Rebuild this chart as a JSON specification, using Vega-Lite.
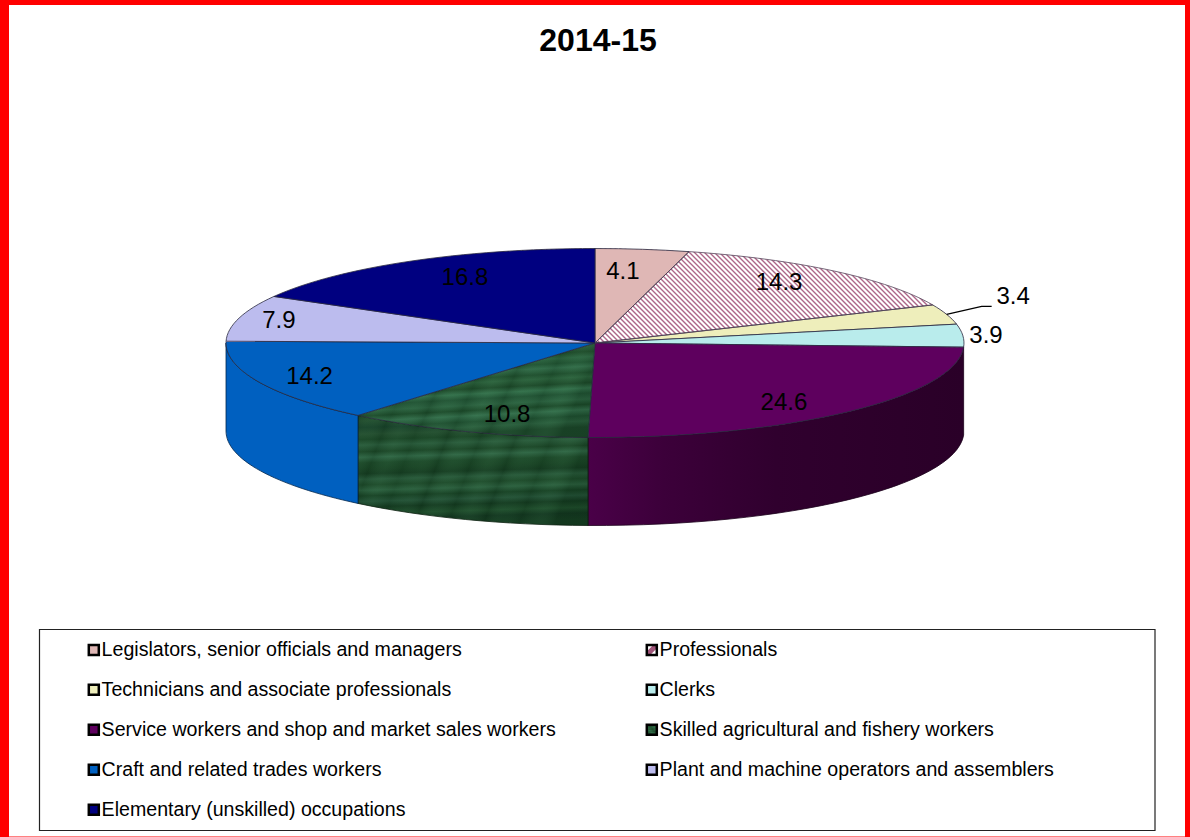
{
  "$schema": "https://vega.github.io/schema/vega-lite/v6.json",
  "autosize": "none",
  "padding": 0,
  "width": 1190,
  "height": 837,
  "background": "#ff0000",
  "title": {"text": "2014-15", "font": "Liberation Sans", "fontSize": 32, "fontWeight": "bold", "color": "#000000", "anchor": "middle", "frame": "group", "offset": -58, "dx": 3, "zindex": 1},
  "config": {"view": {"stroke": null}, "font": "Liberation Sans"},
  "params": [
    {"name": "rx", "value": 369},
    {"name": "ry", "value": 94.5},
    {"name": "depth", "value": 88},
    {"name": "hatchSwatch", "value": {"gradient": "linear", "x1": 0, "y1": 0, "x2": 1, "y2": 1, "stops": [
      {"offset": 0, "color": "#ffffff"}, {"offset": 0.3, "color": "#ffffff"}, {"offset": 0.35, "color": "#a0557a"}, {"offset": 0.65, "color": "#a0557a"}, {"offset": 0.7, "color": "#ffffff"}, {"offset": 1, "color": "#ffffff"}
    ]}},
    {"name": "marbleTop", "value": {"gradient": "linear", "x1": 0, "y1": 0.1, "x2": 0.12, "y2": 1, "stops": [
      {"offset": 0, "color": "#1f4f2b"}, {"offset": 0.07, "color": "#28593a"}, {"offset": 0.13, "color": "#1d4a29"}, {"offset": 0.19, "color": "#2c6440"},
      {"offset": 0.25, "color": "#215433"}, {"offset": 0.3, "color": "#316b48"}, {"offset": 0.37, "color": "#1f4f2e"}, {"offset": 0.42, "color": "#2b613c"},
      {"offset": 0.49, "color": "#1d4a2a"}, {"offset": 0.55, "color": "#33704b"}, {"offset": 0.61, "color": "#215334"}, {"offset": 0.68, "color": "#2c6341"},
      {"offset": 0.74, "color": "#1c4a2a"}, {"offset": 0.8, "color": "#336e4b"}, {"offset": 0.87, "color": "#1f5031"}, {"offset": 0.93, "color": "#2a5e3d"}, {"offset": 1, "color": "#1c472a"}
    ]}},
    {"name": "marbleBlotches", "value": {"gradient": "linear", "x1": 0, "y1": 0, "x2": 1, "y2": 0.18, "stops": [
      {"offset": 0, "color": "rgba(0,20,5,0.14)"}, {"offset": 0.06, "color": "rgba(120,190,140,0.04)"}, {"offset": 0.13, "color": "rgba(0,20,5,0.12)"}, {"offset": 0.2, "color": "rgba(120,190,140,0.06)"},
      {"offset": 0.27, "color": "rgba(0,20,5,0.07)"}, {"offset": 0.33, "color": "rgba(120,190,140,0.03)"}, {"offset": 0.41, "color": "rgba(0,20,5,0.15)"}, {"offset": 0.48, "color": "rgba(120,190,140,0.05)"},
      {"offset": 0.55, "color": "rgba(0,20,5,0.11)"}, {"offset": 0.62, "color": "rgba(120,190,140,0.07)"}, {"offset": 0.7, "color": "rgba(0,20,5,0.14)"}, {"offset": 0.77, "color": "rgba(120,190,140,0.04)"},
      {"offset": 0.85, "color": "rgba(0,20,5,0.1)"}, {"offset": 0.93, "color": "rgba(120,190,140,0.06)"}, {"offset": 1, "color": "rgba(0,20,5,0.13)"}
    ]}}
  ],
  "data": {"values": [
    {"occupation": "Legislators, senior officials and managers", "share": 4.1},
    {"occupation": "Professionals", "share": 14.3},
    {"occupation": "Technicians and associate professionals", "share": 3.4},
    {"occupation": "Clerks", "share": 3.9},
    {"occupation": "Service workers and shop and market sales workers", "share": 24.6},
    {"occupation": "Skilled agricultural and fishery workers", "share": 10.8},
    {"occupation": "Craft and related trades workers", "share": 14.2},
    {"occupation": "Plant and machine operators and assemblers", "share": 7.9},
    {"occupation": "Elementary (unskilled) occupations", "share": 16.8}
  ]},
  "transform": [
    {"window": [{"op": "sum", "field": "share", "as": "cum"}, {"op": "row_number", "as": "rank"}]},
    {"calculate": "(datum.cum - datum.share) / 100 * 2 * PI", "as": "a0"},
    {"calculate": "datum.cum / 100 * 2 * PI", "as": "a1"},
    {"calculate": "(datum.a0 + datum.a1) / 2", "as": "mid"},
    {"calculate": "round(rx * sin(datum.a0) * 100) / 100", "as": "x0"},
    {"calculate": "round(-ry * cos(datum.a0) * 100) / 100", "as": "y0"},
    {"calculate": "round(rx * sin(datum.a1) * 100) / 100", "as": "x1"},
    {"calculate": "round(-ry * cos(datum.a1) * 100) / 100", "as": "y1"},
    {"calculate": "'M0 0L' + datum.x0 + ' ' + datum.y0 + 'A' + rx + ' ' + ry + ' 0 0 1 ' + datum.x1 + ' ' + datum.y1 + 'Z'", "as": "topPath"},
    {"calculate": "'M' + datum.x0 + ' ' + datum.y0 + 'A' + rx + ' ' + ry + ' 0 0 1 ' + datum.x1 + ' ' + datum.y1 + 'L' + datum.x1 + ' ' + (datum.y1 + depth) + 'A' + rx + ' ' + ry + ' 0 0 0 ' + datum.x0 + ' ' + (datum.y0 + depth) + 'Z'", "as": "sidePath"},
    {"calculate": "595 + [0.59, 0.768, 1.189, 1.063, 0.748, 0.68, 0.85, 0.888, 0.70][datum.rank - 1] * rx * sin(datum.mid)", "as": "labelX"},
    {"calculate": "343 - [0.76, 0.835, 1.61, 0.94, 0.87, 0.81, 0.87, 0.88, 0.80][datum.rank - 1] * ry * cos(datum.mid)", "as": "labelY"},
    {"calculate": "595 + rx * sin(datum.mid)", "as": "rimX"},
    {"calculate": "343 - ry * cos(datum.mid)", "as": "rimY"},
    {"calculate": "'M-100 -100' + pad('', 78, 'l110 110m-105 -110')", "as": "hatchPath"}
  ],
  "layer": [
    {
      "transform": [{"filter": "datum.rank == 1"}],
      "mark": {"type": "rect", "fill": "#ffffff"},
      "encoding": {
        "x": {"datum": 9, "type": "quantitative", "scale": {"domain": [0, 1190]}, "axis": null},
        "x2": {"datum": 1185},
        "y": {"datum": 5, "type": "quantitative", "scale": {"domain": [837, 0]}, "axis": null},
        "y2": {"datum": 836.5}
      }
    },
    {
      "transform": [{"filter": "datum.rank == 1"}],
      "mark": {"type": "rect", "fill": null, "stroke": "#222222", "strokeWidth": 1.2},
      "encoding": {
        "x": {"datum": 39.5, "type": "quantitative", "scale": {"domain": [0, 1190]}, "axis": null},
        "x2": {"datum": 1155},
        "y": {"datum": 629.5, "type": "quantitative", "scale": {"domain": [837, 0]}, "axis": null},
        "y2": {"datum": 830.5}
      }
    },
    {
      "encoding": {
        "x": {"datum": 595, "type": "quantitative", "scale": {"domain": [0, 1190]}, "axis": null},
        "y": {"datum": 343, "type": "quantitative", "scale": {"domain": [837, 0]}, "axis": null}
      },
      "layer": [
        {
          "transform": [{"filter": "datum.rank == 2"}],
          "mark": {"type": "point", "filled": false, "opacity": 1, "stroke": "#ad6688", "strokeWidth": 1.4, "size": 4},
          "encoding": {"shape": {"field": "hatchPath", "type": "nominal", "scale": null, "legend": null}}
        },
        {
          "transform": [{"filter": "datum.rank == 2"}, {"calculate": "'M-110 -110H400V20H-110ZM-' + rx + ' 0A' + rx + ' ' + ry + ' 0 0 0 ' + rx + ' 0A' + rx + ' ' + ry + ' 0 0 0 -' + rx + ' 0Z'", "as": "maskPath"}],
          "mark": {"type": "point", "filled": true, "opacity": 1, "fill": "#ffffff", "size": 4},
          "encoding": {"shape": {"field": "maskPath", "type": "nominal", "scale": null, "legend": null}}
        },
        {
          "transform": [{"filter": "datum.rank == 5"}],
          "mark": {"type": "point", "filled": true, "opacity": 1, "size": 4, "stroke": "#1a001a", "strokeWidth": 0.8,
            "fill": {"gradient": "linear", "x1": 0, "y1": 0, "x2": 1, "y2": 0, "stops": [
              {"offset": 0, "color": "#4a0048"}, {"offset": 0.2, "color": "#3c003a"}, {"offset": 0.5, "color": "#30002e"}, {"offset": 1, "color": "#2a0028"}
            ]}},
          "encoding": {"shape": {"field": "sidePath", "type": "nominal", "scale": null, "legend": null}}
        },
        {
          "transform": [{"filter": "datum.rank == 6"}],
          "mark": {"type": "point", "filled": true, "opacity": 1, "size": 4, "stroke": "#0c1f10", "strokeWidth": 0.8,
            "fill": {"gradient": "linear", "x1": 0, "y1": 0, "x2": 0.06, "y2": 1, "stops": [
              {"offset": 0, "color": "#1c4727"}, {"offset": 0.05, "color": "#234f30"}, {"offset": 0.11, "color": "#18422a"}, {"offset": 0.17, "color": "#244f30"},
              {"offset": 0.22, "color": "#1a4526"}, {"offset": 0.27, "color": "#2a5c3c"}, {"offset": 0.33, "color": "#1b4627"}, {"offset": 0.38, "color": "#2f6544"},
              {"offset": 0.43, "color": "#1d4a2a"}, {"offset": 0.48, "color": "#1a4526"}, {"offset": 0.53, "color": "#163d22"}, {"offset": 0.58, "color": "#28593a"},
              {"offset": 0.63, "color": "#1d4a2a"}, {"offset": 0.68, "color": "#2b5f3e"}, {"offset": 0.73, "color": "#174124"}, {"offset": 0.78, "color": "#245237"},
              {"offset": 0.83, "color": "#143a20"}, {"offset": 0.89, "color": "#1f4d2c"}, {"offset": 0.94, "color": "#133720"}, {"offset": 1, "color": "#163d22"}
            ]}},
          "encoding": {"shape": {"field": "sidePath", "type": "nominal", "scale": null, "legend": null}}
        },
        {
          "transform": [{"filter": "datum.rank == 7"}, {"calculate": "'M' + datum.x0 + ' ' + datum.y0 + 'A' + rx + ' ' + ry + ' 0 0 1 -' + rx + ' 0L-' + rx + ' ' + depth + 'A' + rx + ' ' + ry + ' 0 0 0 ' + datum.x0 + ' ' + (datum.y0 + depth) + 'Z'", "as": "leftSidePath"}],
          "mark": {"type": "point", "filled": true, "opacity": 1, "size": 4, "stroke": "#00264d", "strokeWidth": 0.8, "fill": "#0060c0"},
          "encoding": {"shape": {"field": "leftSidePath", "type": "nominal", "scale": null, "legend": null}}
        },
        {
          "mark": {"type": "point", "filled": true, "opacity": 1, "size": 4, "stroke": "#2a2a40", "strokeWidth": 0.8},
          "transform": [{"filter": "datum.rank != 2"}],
          "encoding": {
            "shape": {"field": "topPath", "type": "nominal", "scale": null, "legend": null},
            "fill": {
              "field": "occupation",
              "type": "nominal",
              "scale": {
                "domain": [
                  "Legislators, senior officials and managers", "Professionals", "Technicians and associate professionals", "Clerks",
                  "Service workers and shop and market sales workers", "Skilled agricultural and fishery workers", "Craft and related trades workers",
                  "Plant and machine operators and assemblers", "Elementary (unskilled) occupations"
                ],
                "range": [
                  "#dfb7b5",
                  {"expr": "hatchSwatch"},
                  "#eeeebb",
                  "#b9ecec",
                  "#5e005e",
                  {"expr": "marbleTop"},
                  "#0060c0",
                  "#bcbcee",
                  "#000080"
                ]
              },
              "legend": {
                "title": null,
                "orient": "none",
                "legendX": 84,
                "legendY": 640,
                "zindex": 1,
                "direction": "horizontal",
                "columns": 2,
                "symbolType": "square",
                "symbolSize": 100,
                "symbolStrokeColor": "#000000",
                "symbolStrokeWidth": 2.5,
                "labelFont": "Liberation Sans",
                "labelFontSize": 19.6,
                "labelColor": "#000000",
                "labelLimit": 600,
                "labelOffset": -2,
                "rowPadding": 19,
                "columnPadding": 85,
                "gridAlign": "all"
              }
            }
          }
        },
        {
          "transform": [{"filter": "datum.rank == 6"}],
          "mark": {"type": "point", "filled": true, "opacity": 1, "size": 4, "strokeWidth": 0, "fill": {"expr": "marbleBlotches"}},
          "encoding": {"shape": {"field": "topPath", "type": "nominal", "scale": null, "legend": null}}
        },
        {
          "transform": [{"filter": "datum.rank == 6"}],
          "mark": {"type": "point", "filled": true, "opacity": 1, "size": 4, "strokeWidth": 0, "fill": {"expr": "marbleBlotches"}},
          "encoding": {"shape": {"field": "sidePath", "type": "nominal", "scale": null, "legend": null}}
        },
        {
          "transform": [{"filter": "datum.rank == 2"}],
          "mark": {"type": "point", "filled": false, "opacity": 1, "size": 4, "stroke": "#55445a", "strokeWidth": 0.8},
          "encoding": {"shape": {"field": "topPath", "type": "nominal", "scale": null, "legend": null}}
        }
      ]
    },
    {
      "transform": [{"filter": "datum.rank == 3"}],
      "mark": {"type": "point", "filled": false, "opacity": 1, "size": 4, "stroke": "#000000", "strokeWidth": 1.2},
      "encoding": {
        "x": {"field": "rimX", "type": "quantitative", "scale": {"domain": [0, 1190]}, "axis": null},
        "y": {"field": "rimY", "type": "quantitative", "scale": {"domain": [837, 0]}, "axis": null},
        "shape": {"datum": "M0 0L35 -8H45", "type": "nominal", "scale": null, "legend": null}
      }
    },
    {
      "mark": {"type": "text", "font": "Liberation Sans", "fontSize": 24, "color": "#000000", "align": "center", "baseline": "middle"},
      "encoding": {
        "x": {"field": "labelX", "type": "quantitative", "scale": {"domain": [0, 1190]}, "axis": null},
        "y": {"field": "labelY", "type": "quantitative", "scale": {"domain": [837, 0]}, "axis": null},
        "text": {"field": "share", "type": "quantitative", "format": ".1f"}
      }
    }
  ]
}
